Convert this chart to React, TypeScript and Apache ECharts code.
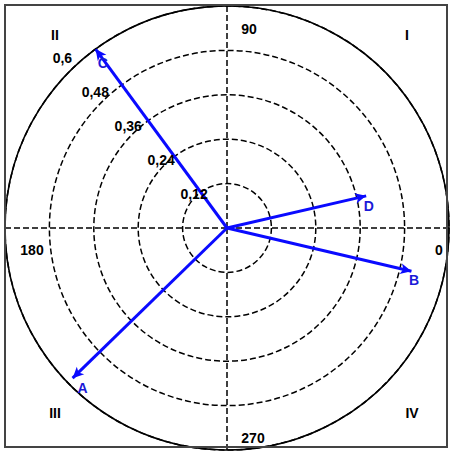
import React, { useEffect, useRef } from "react";
import * as echarts from "echarts";

const vectorNames = ["A", "B", "C", "D"];
const vectorMagnitudes = [0.582, 0.512, 0.6, 0.386];
const vectorAngles = [224.2, 346.8, 126.3, 13.0];
const radiusTicks = [0.12, 0.24, 0.36, 0.48, 0.6];
const angleTickLabels = ["0", "90", "180", "270"];
const quadrantLabels = ["I", "II", "III", "IV"];

const CX = 227;
const CY = 228;
const R = 222;
const RMAX = 0.6;

const labelOffsets: Record<string, number[]> = {
  A: [6, 14],
  B: [8, 10],
  C: [4, 9],
  D: [8, 9],
};

export default function App() {
  const ref = useRef<HTMLDivElement>(null);
  useEffect(() => {
    if (!ref.current) return;
    const chart = echarts.init(ref.current, null, { renderer: "svg" });
    const blue = "#0a0aff";
    const series: any[] = vectorNames.map((name, i) => ({
      type: "line",
      coordinateSystem: "polar",
      name,
      clip: false,
      silent: true,
      lineStyle: { color: blue, width: 3 },
      itemStyle: { color: blue },
      data: [
        { value: [0, vectorAngles[i]], symbol: "none" },
        {
          value: [vectorMagnitudes[i], vectorAngles[i]],
          symbol: "arrow",
          symbolSize: [8, 11],
          symbolRotate: vectorAngles[i] - 90,
          label: {
            show: true,
            position: "inside",
            offset: labelOffsets[name],
            formatter: name,
            color: "#1a1ad8",
            fontWeight: "bold",
            fontSize: 14,
            fontFamily: "Liberation Sans, Arial, sans-serif",
          },
        },
      ],
    }));

    const font = "Liberation Sans, Arial, sans-serif";
    const txt = (text: string, x: number, y: number, size = 14) => ({
      type: "text",
      x,
      y,
      z: 10,
      style: {
        text,
        fill: "#000",
        font: `bold ${size}px ${font}`,
        textAlign: "center",
        textVerticalAlign: "middle",
      },
    });
    const scaleLbl = 395;
    const a = (134 * Math.PI) / 180;
    const radiusLabelGraphics = radiusTicks.map((t) =>
      txt(
        String(t).replace(".", ","),
        CX + Math.cos(a) * t * scaleLbl,
        CY - Math.sin(a) * t * scaleLbl
      )
    );
    const anglePos = [
      [439, 250],
      [249, 29],
      [32, 250],
      [253, 438],
    ];
    const quadPos = [
      [407, 35],
      [55, 35],
      [55, 413],
      [412, 413],
    ];
    const angleGraphics = angleTickLabels.map((t, i) =>
      txt(t, anglePos[i][0], anglePos[i][1])
    );
    const quadGraphics = quadrantLabels.map((t, i) =>
      txt(t, quadPos[i][0], quadPos[i][1], 14)
    );

    chart.setOption({
      animation: false,
      backgroundColor: "#fff",
      polar: { center: [CX, CY], radius: R },
      angleAxis: {
        type: "value",
        min: 0,
        max: 360,
        interval: 90,
        startAngle: 0,
        clockwise: false,
        axisLine: { show: true, lineStyle: { color: "#000", width: 1.6 } },
        axisTick: { show: false },
        axisLabel: { show: false },
        splitLine: {
          show: true,
          lineStyle: { color: "#000", width: 1.5, type: [6, 3] },
        },
      },
      radiusAxis: {
        type: "value",
        min: 0,
        max: RMAX,
        interval: 0.12,
        axisLine: { show: false },
        axisTick: { show: false },
        axisLabel: { show: false },
        splitLine: {
          show: true,
          lineStyle: { color: "#000", width: 1.5, type: [6, 3] },
        },
      },
      series,
      graphic: [
        {
          type: "rect",
          z: 20,
          shape: { x: 5, y: 5, width: 442, height: 442 },
          style: { fill: "none", stroke: "#444", lineWidth: 2 },
        },
        ...radiusLabelGraphics,
        ...angleGraphics,
        ...quadGraphics,
      ],
    });
    return () => chart.dispose();
  }, []);
  return (
    <div
      ref={ref}
      style={{ position: "fixed", left: 0, top: 0, width: 454, height: 456 }}
    />
  );
}
